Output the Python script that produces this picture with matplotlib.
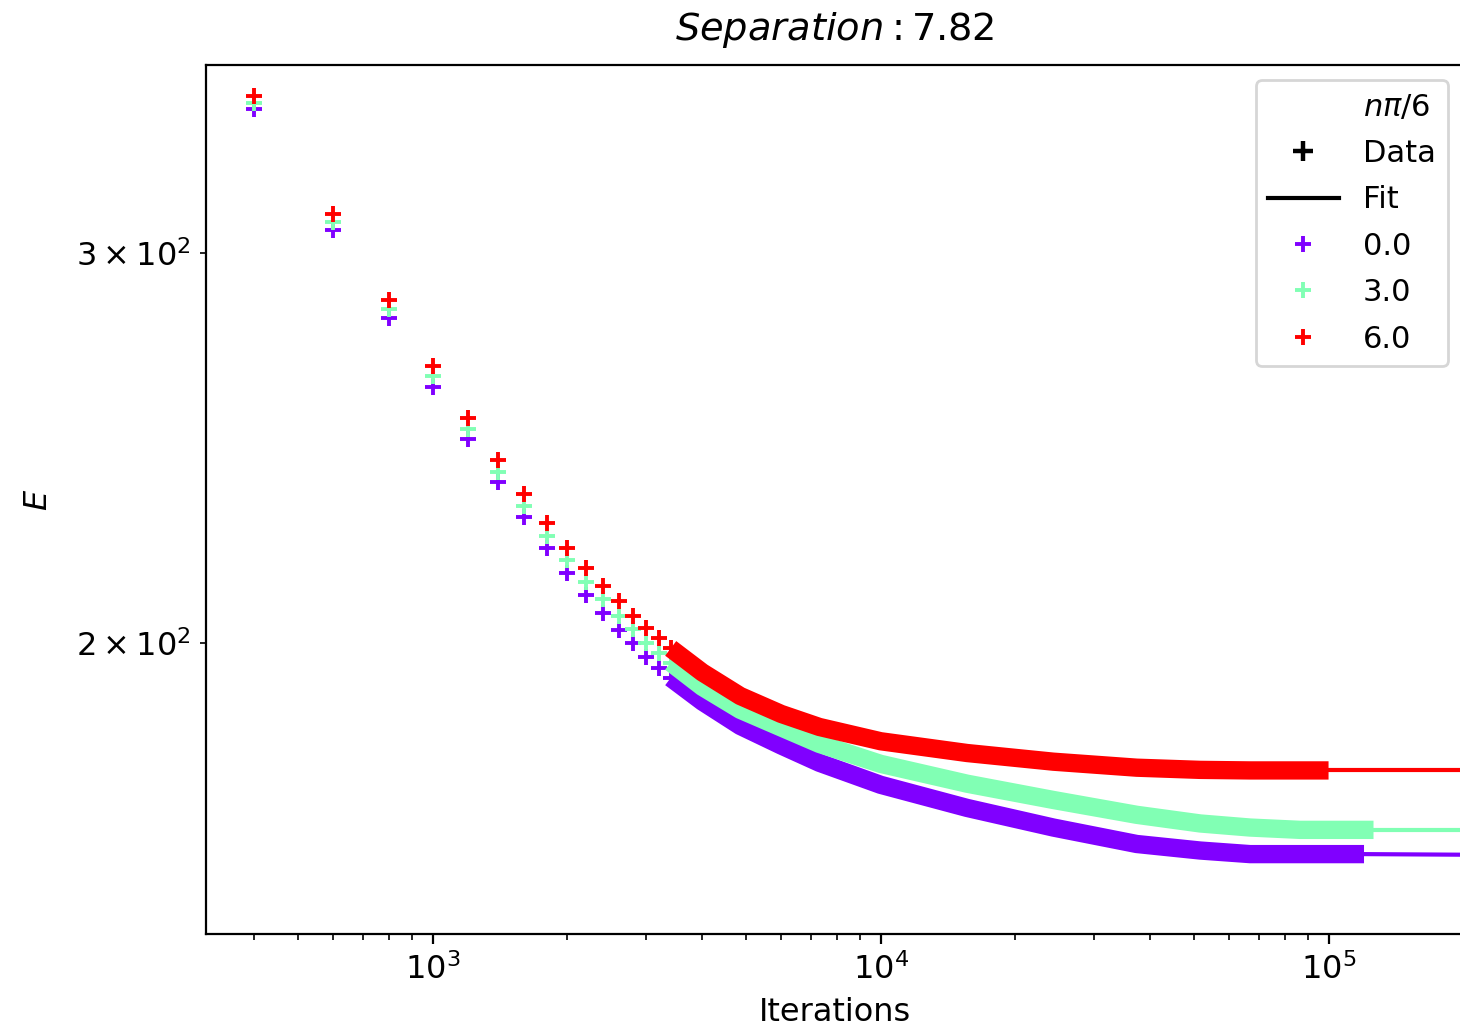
import matplotlib
matplotlib.use("Agg")
import matplotlib.pyplot as plt
from matplotlib.lines import Line2D

# Values
ANGLES = ["0.0", "3.0", "6.0"]

# individually visible data points
ITERS = [400, 600, 800, 1000, 1200, 1400, 1600, 1800, 2000, 2200, 2400, 2600, 2800, 3000, 3200, 3400]
E_0 = [348.5, 307.2, 280.4, 261.1, 247.3, 236.4, 228.0, 220.8, 215.1, 210.3, 206.3, 202.8, 200.0, 197.2, 194.9, 192.9]
E_3 = [350.6, 309.8, 283.1, 263.9, 249.8, 238.9, 230.6, 223.6, 218.1, 213.2, 209.4, 205.8, 203.0, 200.1, 198.0, 196.0]
E_6 = [353.3, 312.6, 285.8, 266.8, 252.7, 242.0, 233.5, 226.6, 220.8, 216.2, 212.3, 208.9, 205.8, 203.2, 201.0, 198.9]

# dense part where the markers merge into a band
BAND_ITERS = [3400, 4000, 4860, 6000, 7300, 10000, 15600, 24300, 37300, 51700, 66800, 86400]
BAND_0 = [192.9, 188.2, 183.5, 179.8, 176.6, 172.6, 168.5, 165.1, 162.3, 161.2, 160.6, 160.6]
BAND_3 = [196.0, 191.1, 186.6, 183.2, 180.1, 176.4, 172.8, 169.9, 167.3, 165.8, 165.1, 164.7]
BAND_6 = [198.9, 194.0, 189.3, 185.8, 183.3, 180.6, 178.4, 176.8, 175.7, 175.3, 175.2, 175.2]

# last data point of each series, and fit value at the right edge
END_ITER = [120000, 126000, 100000]
END_E = [160.6, 164.7, 175.2]
FIT_ITER_MAX = 200000
FIT_E = [160.5, 164.7, 175.2]

plt.rcParams["font.size"] = 10.5
plt.rcParams["xtick.labelsize"] = 11.5
plt.rcParams["ytick.labelsize"] = 11.5
plt.rcParams["axes.labelsize"] = 11.5

fig = plt.figure(figsize=(7.3, 5.17), dpi=200)
ax = fig.add_axes([206 / 1460, 100 / 1034, (1463.4 - 206) / 1460, 869 / 1034])

colors = plt.cm.rainbow([0.0, 0.5, 1.0])
points = [E_0, E_3, E_6]
bands = [BAND_0, BAND_3, BAND_6]

for i in range(3):
    c = colors[i]
    ax.plot(ITERS, points[i], ls="none", marker="+", ms=6, mew=1.4, color=c)
    # cut the shared band grid at this series' last point
    bx = [x for x in BAND_ITERS if x < END_ITER[i]] + [END_ITER[i]]
    by = bands[i][:len(bx) - 1] + [END_E[i]]
    ax.plot(bx, by, color=c, lw=6.6, solid_capstyle="butt", solid_joinstyle="round")
    ax.plot([END_ITER[i], FIT_ITER_MAX], [END_E[i], FIT_E[i]], color=c, lw=1.5)

ax.set_xscale("log")
ax.set_yscale("log")
ax.set_xlim(312, 200000)
ax.set_ylim(147.8, 364.8)
ax.set_xlabel("Iterations")
ax.set_ylabel("$E$", labelpad=8)
ax.set_title("$Separation: 7.82$", fontsize=13.8, pad=9)

handles = [
    Line2D([], [], color="none"),
    Line2D([], [], ls="none", marker="+", color="black", ms=7.5, mew=1.6),
    Line2D([], [], color="black", lw=1.5),
]
labels = [r"$n\pi/6$", "Data", "Fit"]
for i in range(3):
    handles.append(Line2D([], [], ls="none", marker="+", color=colors[i], ms=6, mew=1.4))
    labels.append(ANGLES[i])
ax.legend(handles, labels, loc="upper right", handlelength=2.3, fontsize=11,
          labelspacing=0.57)

fig.savefig("out.png", dpi=200)
